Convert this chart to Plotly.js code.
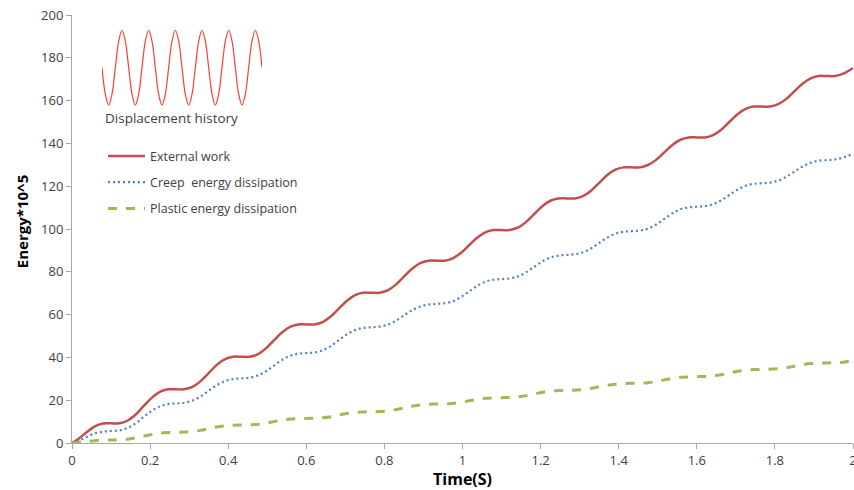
<!DOCTYPE html>
<html>
<head>
<meta charset="utf-8">
<script src="https://cdn.plot.ly/plotly-3.0.1.min.js"></script>
<style>html,body{margin:0;padding:0;background:#fff}#chart{width:854px;height:490px}</style>
</head>
<body>
<div id="chart"></div>
<script>
// Time samples (s)
var time = [0, 0.0167, 0.0375, 0.0583, 0.0792,
  0.1000, 0.1208, 0.1417, 0.1625, 0.1833, 0.2042, 0.2250, 0.2458,
  0.2667, 0.2875, 0.3083, 0.3292, 0.3500, 0.3708, 0.3917, 0.4125,
  0.4333, 0.4542, 0.4750, 0.4958, 0.5167, 0.5375, 0.5583, 0.5792,
  0.6000, 0.6208, 0.6417, 0.6625, 0.6833, 0.7042, 0.7250, 0.7458,
  0.7667, 0.7875, 0.8083, 0.8292, 0.8500, 0.8708, 0.8917, 0.9125,
  0.9333, 0.9542, 0.9750, 0.9958, 1.0167, 1.0375, 1.0583, 1.0792,
  1.1000, 1.1208, 1.1417, 1.1625, 1.1833, 1.2042, 1.2250, 1.2458,
  1.2667, 1.2875, 1.3083, 1.3292, 1.3500, 1.3708, 1.3917, 1.4125,
  1.4333, 1.4542, 1.4750, 1.4958, 1.5167, 1.5375, 1.5583, 1.5792,
  1.6000, 1.6208, 1.6417, 1.6625, 1.6833, 1.7042, 1.7250, 1.7458,
  1.7667, 1.7875, 1.8083, 1.8292, 1.8500, 1.8708, 1.8917, 1.9125,
  1.9333, 1.9542, 1.9750, 2.0000];

var externalWork = [0, 2.0, 5.0, 7.8, 9.1,
  9.2, 9.2, 10.4, 13.2, 17.2, 21.1, 23.9, 25.1,
  25.1, 25.1, 26.2, 28.9, 32.7, 36.5, 39.2, 40.3,
  40.3, 40.3, 41.4, 44.1, 47.9, 51.6, 54.3, 55.4,
  55.4, 55.4, 56.5, 59.1, 62.8, 66.5, 69.1, 70.2,
  70.2, 70.2, 71.3, 74.0, 77.7, 81.4, 84.1, 85.2,
  85.2, 85.2, 86.3, 88.8, 92.4, 95.9, 98.4, 99.5,
  99.5, 99.5, 100.6, 103.2, 106.9, 110.6, 113.2, 114.3,
  114.3, 114.3, 115.4, 117.9, 121.6, 125.2, 127.7, 128.8,
  128.8, 128.8, 129.9, 132.3, 135.8, 139.3, 141.7, 142.8,
  142.8, 142.8, 143.9, 146.4, 150.0, 153.6, 156.1, 157.2,
  157.2, 157.2, 158.3, 160.8, 164.4, 167.9, 170.4, 171.5,
  171.5, 171.5, 172.6, 175.2];

var creepEnergy = [0, 1.0, 2.8, 4.5, 5.3,
  5.6, 5.9, 7.0, 9.1, 12.1, 15.0, 17.1, 18.2,
  18.5, 18.8, 19.8, 21.7, 24.4, 27.0, 28.9, 29.9,
  30.2, 30.5, 31.5, 33.4, 36.1, 38.8, 40.7, 41.7,
  42.0, 42.3, 43.3, 45.3, 48.1, 50.8, 52.8, 53.8,
  54.1, 54.4, 55.3, 57.1, 59.6, 62.0, 63.8, 64.7,
  65.0, 65.3, 66.2, 68.2, 70.8, 73.4, 75.4, 76.3,
  76.6, 76.9, 77.8, 79.7, 82.3, 84.8, 86.7, 87.6,
  87.9, 88.2, 89.1, 90.9, 93.5, 96.0, 97.8, 98.7,
  99.0, 99.3, 100.2, 102.1, 104.7, 107.3, 109.2, 110.1,
  110.4, 110.7, 111.6, 113.4, 115.9, 118.4, 120.2, 121.1,
  121.4, 121.7, 122.6, 124.4, 126.8, 129.2, 131.0, 131.9,
  132.2, 132.5, 133.4, 135.1];

var plasticEnergy = [0, 0.3, 0.7, 1.1, 1.35,
  1.4, 1.5, 1.8, 2.4, 3.2, 4.0, 4.6, 4.9,
  5.0, 5.1, 5.4, 5.9, 6.7, 7.5, 8.0, 8.3,
  8.4, 8.5, 8.7, 9.2, 10.0, 10.7, 11.2, 11.4,
  11.5, 11.6, 11.8, 12.3, 13.1, 13.8, 14.3, 14.5,
  14.6, 14.7, 15.0, 15.6, 16.4, 17.2, 17.8, 18.1,
  18.2, 18.3, 18.5, 19.0, 19.7, 20.4, 20.9, 21.1,
  21.2, 21.3, 21.6, 22.1, 22.9, 23.7, 24.2, 24.5,
  24.6, 24.7, 24.9, 25.5, 26.3, 27.0, 27.5, 27.8,
  27.9, 28.0, 28.2, 28.7, 29.5, 30.2, 30.7, 30.9,
  31.0, 31.1, 31.4, 31.9, 32.7, 33.5, 34.0, 34.3,
  34.4, 34.5, 34.7, 35.2, 35.9, 36.6, 37.1, 37.3,
  37.4, 37.5, 37.7, 38.6];

// Displacement history (inset), normalised
var dispTime = [0, 0.0417, 0.0833, 0.125, 0.1667, 0.2083, 0.25, 0.2917,
  0.3333, 0.375, 0.4167, 0.4583, 0.5, 0.5417, 0.5833, 0.625,
  0.6667, 0.7083, 0.75, 0.7917, 0.8333, 0.875, 0.9167, 0.9583,
  1.0, 1.0417, 1.0833, 1.125, 1.1667, 1.2083, 1.25, 1.2917,
  1.3333, 1.375, 1.4167, 1.4583, 1.5, 1.5417, 1.5833, 1.625,
  1.6667, 1.7083, 1.75, 1.7917, 1.8333, 1.875, 1.9167, 1.9583, 2.0];
var displacement = [0, -0.71, -1, -0.71, 0, 0.71, 1, 0.71,
  0, -0.71, -1, -0.71, 0, 0.71, 1, 0.71,
  0, -0.71, -1, -0.71, 0, 0.71, 1, 0.71,
  0, -0.71, -1, -0.71, 0, 0.71, 1, 0.71,
  0, -0.71, -1, -0.71, 0, 0.71, 1, 0.71,
  0, -0.71, -1, -0.71, 0, 0.71, 1, 0.71, 0];

var seriesNames = ['External work', 'Creep\u00a0 energy dissipation', 'Plastic energy dissipation'];
var xTickVals = [0, 0.2, 0.4, 0.6, 0.8, 1, 1.2, 1.4, 1.6, 1.8, 2];
var xTickText = ['0', '0.2', '0.4', '0.6', '0.8', '1', '1.2', '1.4', '1.6', '1.8', '2'];
var yTickVals = [0, 20, 40, 60, 80, 100, 120, 140, 160, 180, 200];

var FONT = '"Open Sans", "Liberation Sans", sans-serif';
var TXT = '#404040';

var traces = [
  {x: time, y: externalWork, name: seriesNames[0], mode: 'lines', legendgroup: 'a',
   line: {color: '#c0504d', width: 2.5, shape: 'spline', smoothing: 1}},
  {x: time, y: creepEnergy, name: seriesNames[1], mode: 'lines', legendgroup: 'b',
   line: {color: '#4f81bd', width: 2.2, dash: '2px,3px', shape: 'spline', smoothing: 1}},
  {x: time, y: plasticEnergy, name: seriesNames[2], mode: 'lines', legendgroup: 'c',
   line: {color: '#9bbb59', width: 3, dash: 'dash', shape: 'spline', smoothing: 1}},
  {x: dispTime, y: displacement, xaxis: 'x2', yaxis: 'y2', mode: 'lines', showlegend: false,
   hoverinfo: 'skip', line: {color: '#ff3b3b', width: 1.2, shape: 'spline', smoothing: 1}}
];

var layout = {
  width: 854, height: 490,
  margin: {l: 72, r: 1, t: 15, b: 47},
  paper_bgcolor: '#ffffff', plot_bgcolor: '#ffffff',
  font: {family: FONT, size: 13, color: TXT},
  showlegend: true,
  legend: {x: 0.0397, y: 0.705, xanchor: 'left', yanchor: 'top', bgcolor: 'rgba(0,0,0,0)',
           itemwidth: 37,
           font: {family: FONT, size: 12.5, color: TXT}, traceorder: 'grouped', tracegroupgap: 7},
  xaxis: {range: [0, 2], tickvals: xTickVals, ticktext: xTickText, showgrid: false, zeroline: false,
          showline: true, linecolor: '#a6a6a6', linewidth: 1, ticks: 'outside', ticklen: 5,
          tickcolor: '#a6a6a6', ticklabeloverflow: 'allow', tickfont: {family: FONT, size: 13, color: TXT},
          title: {text: '<b>Time(S)</b>', font: {family: FONT, size: 16, color: '#000'}, standoff: 6}},
  yaxis: {range: [0, 200], tickvals: yTickVals, showgrid: false, zeroline: false,
          showline: true, linecolor: '#a6a6a6', linewidth: 1, ticks: 'outside', ticklen: 5,
          tickcolor: '#a6a6a6', tickfont: {family: FONT, size: 13, color: TXT}},
  xaxis2: {domain: [0.0384, 0.2433], anchor: 'y2', range: [0, 2], visible: false},
  yaxis2: {domain: [0.787, 0.967], anchor: 'x2', range: [-1.03, 1.03], visible: false},
  annotations: [
    {xref: 'paper', yref: 'paper', x: 0.0398, y: 0.760, xanchor: 'left', yanchor: 'middle',
     text: 'Displacement history', showarrow: false, font: {family: FONT, size: 13.5, color: TXT}},
    {xref: 'paper', yref: 'paper', x: -0.0640, y: 0.516, xanchor: 'center', yanchor: 'middle',
     textangle: -90, text: '<b>Energy*10^5</b>', showarrow: false,
     font: {family: FONT, size: 15, color: '#000'}}
  ]
};

Plotly.newPlot('chart', traces, layout, {displayModeBar: false, staticPlot: true});
</script>
</body>
</html>
